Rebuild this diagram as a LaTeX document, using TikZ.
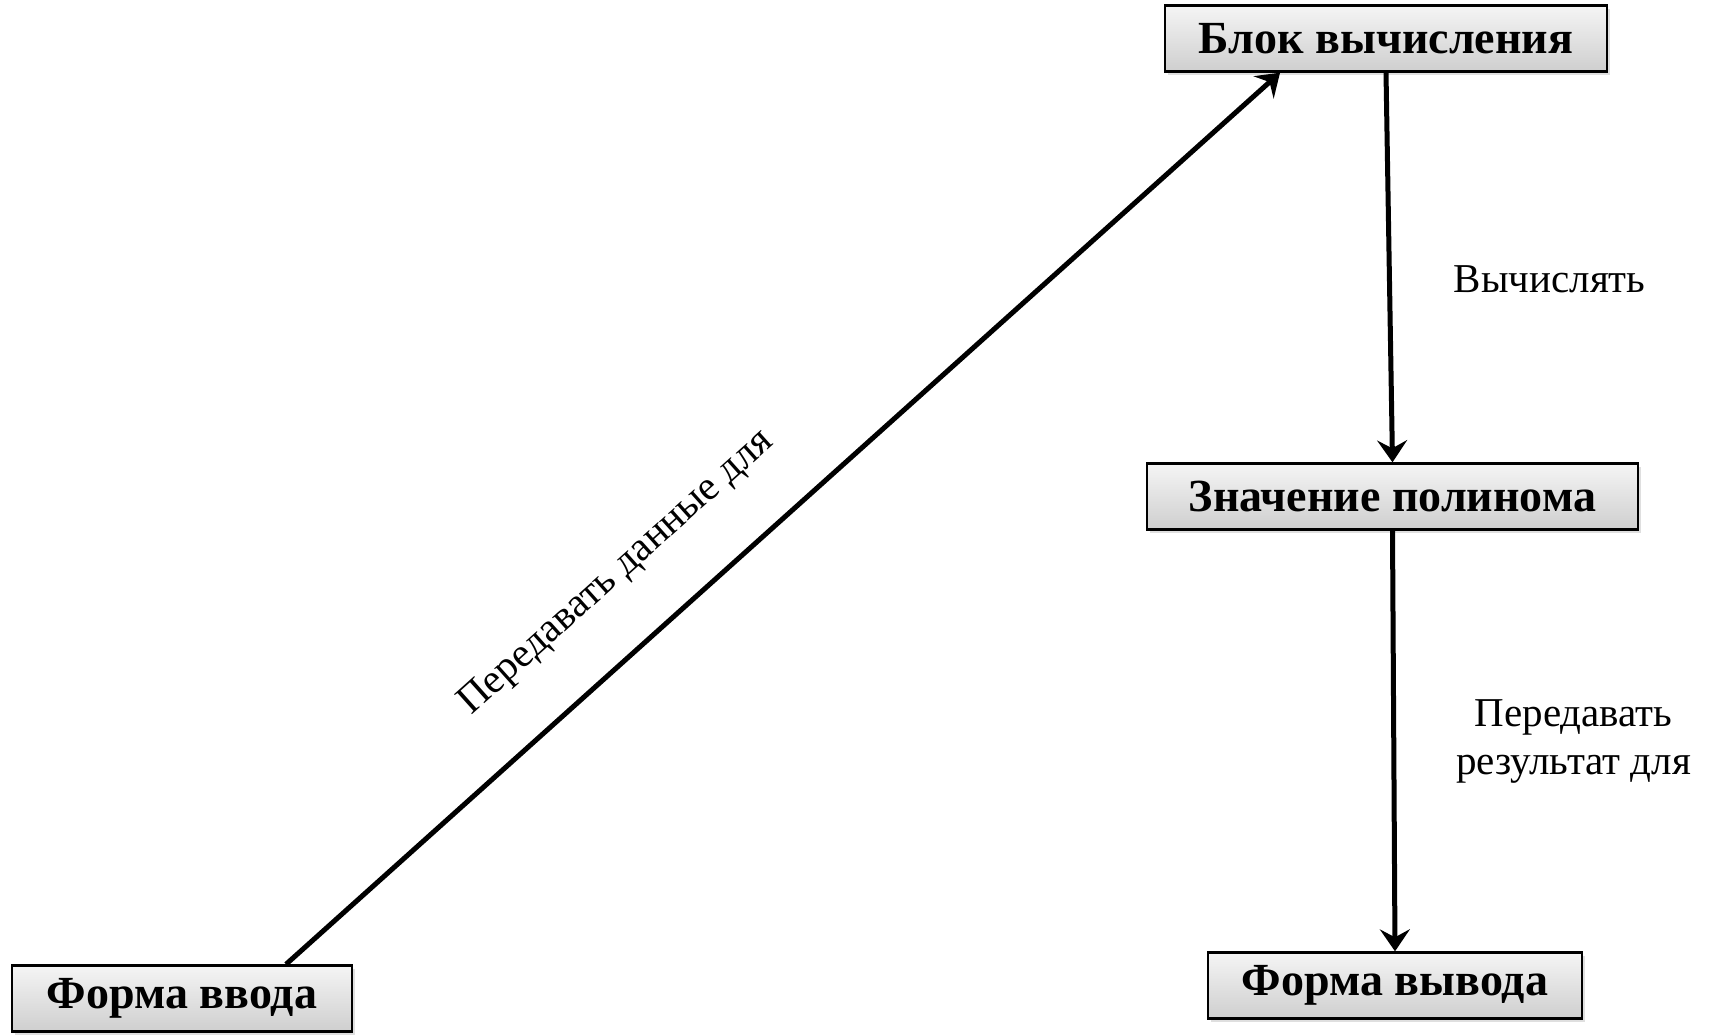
\documentclass[tikz,border=0pt]{standalone}
\usepackage{fontspec}
\setmainfont{Liberation Serif}
\usepackage{tikz}
\usetikzlibrary{arrows.meta,shadows}

\tikzset{
  blok/.style={draw=black, line width=1.2pt, top color=gray!8, bottom color=gray!38,
    minimum height=33pt, inner sep=0pt, font=\fontsize{23}{27}\selectfont\bfseries,
    drop shadow={opacity=0.25, shadow xshift=1.5pt, shadow yshift=-1.5pt}},
  strelka/.style={line width=2.5pt, -{Stealth[length=11pt, width=15pt, inset=4pt]}},
  podpis/.style={inner sep=0pt, font=\fontsize{20.5}{24}\selectfont}
}

\begin{document}
\begin{tikzpicture}[x=0.5pt,y=-0.5pt]
\useasboundingbox (0,0) rectangle (1723,1035);

%Shape: Rectangle [id:blok]
\node [blok, minimum width=221pt] (blok) at (1386,38.5) {Блок вычисления};
%Shape: Rectangle [id:vvod]
\node [blok, minimum width=170pt] (vvod) at (182,998.5) {Форма ввода};
%Shape: Rectangle [id:znach]
\node [blok, minimum width=245.5pt] (znach) at (1392.5,496.5) {Значение полинома};
%Shape: Rectangle [id:vyvod]
\node [blok, minimum width=187pt] (vyvod) at (1395,985.5) {Форма вывода};

% Connection
\draw [strelka] ([xshift=52pt]vvod.north) -- ([xshift=-53pt]blok.south)
  node [podpis, pos=0.38, sloped, above=25pt] {Передавать данные для};
% Connection
\draw [strelka] (blok.south) -- (znach.north)
  node [podpis, pos=0.53, right=31pt] {Вычислять};
% Connection
\draw [strelka] (znach.south) -- (vyvod.north)
  node [podpis, pos=0.5, right=30pt, align=center] {Передавать\\результат для};

\end{tikzpicture}
\end{document}
